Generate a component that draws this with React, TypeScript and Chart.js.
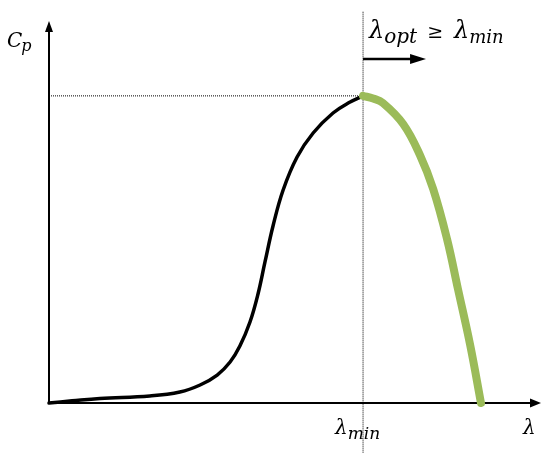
import React, { useEffect, useRef } from "react";
import { Chart, registerables } from "chart.js";

Chart.register(...registerables);

// ---- data (schematic Cp–λ curve) ----
const LAMBDA_MIN = 9.0;
const CP_MAX = 0.402;
const X_MAX = 14.1;
const Y_MAX = 0.5;

const riseLambda = [0, 0.66, 1.46, 2.89, 3.75, 4.33, 4.82, 5.19, 5.47, 5.76, 5.99, 6.19, 6.42, 6.71, 7.11, 7.57, 8.14, 8.63, 9.0];
const riseCp = [0, 0.0028, 0.0059, 0.0092, 0.0144, 0.0236, 0.0366, 0.0537, 0.0746, 0.106, 0.1427, 0.1846, 0.2317, 0.2788, 0.322, 0.3534, 0.3796, 0.394, 0.402];

const fallLambda = [9.0, 9.29, 9.57, 10.15, 10.63, 11.01, 11.41, 11.72, 12.07, 12.38];
const fallCp = [0.402, 0.3985, 0.3927, 0.3652, 0.3246, 0.2801, 0.214, 0.1492, 0.0759, 0];

const GUIDE_TOP = 0.512;
const GUIDE_BOTTOM = -0.065;

const LABEL_CP = ["C", "p"];
const LABEL_LAMBDA = "λ";
const LABEL_OPT = "opt";
const LABEL_MIN = "min";
const LABEL_GEQ = "≥";

const FONT = '"DejaVu Serif", "Liberation Serif", serif';

function drawParts(
  ctx: CanvasRenderingContext2D,
  parts: { t: string; size: number; dy: number; italic: boolean; gapBefore?: number }[],
  x: number,
  y: number
) {
  let cx = x;
  ctx.textBaseline = "alphabetic";
  ctx.textAlign = "left";
  for (const p of parts) {
    cx += p.gapBefore || 0;
    ctx.font = `${p.italic ? "italic " : ""}${p.size}px ${FONT}`;
    ctx.fillText(p.t, cx, y + p.dy);
    cx += ctx.measureText(p.t).width;
  }
}

const decorPlugin = {
  id: "decor",
  beforeDatasetsDraw(chart: any) {
    const { ctx, chartArea } = chart;
    const { left, right, top, bottom } = chartArea;
    ctx.save();
    ctx.strokeStyle = "#000";
    ctx.fillStyle = "#000";
    ctx.lineWidth = 2;
    // x axis
    ctx.beginPath();
    ctx.moveTo(left, bottom);
    ctx.lineTo(right - 8, bottom);
    ctx.stroke();
    ctx.beginPath();
    ctx.moveTo(right, bottom);
    ctx.lineTo(right - 11, bottom - 4.5);
    ctx.lineTo(right - 11, bottom + 4.5);
    ctx.closePath();
    ctx.fill();
    // y axis
    ctx.beginPath();
    ctx.moveTo(left, bottom);
    ctx.lineTo(left, top + 8);
    ctx.stroke();
    ctx.beginPath();
    ctx.moveTo(left, top);
    ctx.lineTo(left - 4, top + 11);
    ctx.lineTo(left + 4, top + 11);
    ctx.closePath();
    ctx.fill();
    ctx.restore();
  },
  afterDraw(chart: any) {
    const { ctx, chartArea, scales } = chart;
    const xm = scales.x.getPixelForValue(LAMBDA_MIN);
    const { top, bottom, right } = chartArea;
    ctx.save();
    ctx.fillStyle = "#000";
    ctx.strokeStyle = "#000";

    // Cp label
    drawParts(
      ctx,
      [
        { t: LABEL_CP[0], size: 20, dy: 0, italic: true },
        { t: LABEL_CP[1], size: 16, dy: 4, italic: true, gapBefore: -1 },
      ],
      7,
      top + 26
    );

    // λopt ≥ λmin
    drawParts(
      ctx,
      [
        { t: LABEL_LAMBDA, size: 24, dy: 0, italic: true },
        { t: LABEL_OPT, size: 20, dy: 5, italic: true, gapBefore: 0 },
        { t: LABEL_GEQ, size: 19, dy: 0, italic: false, gapBefore: 10 },
        { t: LABEL_LAMBDA, size: 24, dy: 0, italic: true, gapBefore: 11 },
        { t: LABEL_MIN, size: 18, dy: 5, italic: true, gapBefore: 0 },
      ],
      xm + 6,
      top + 17
    );

    // arrow under the label
    const ay = top + 38;
    ctx.lineWidth = 2.5;
    ctx.beginPath();
    ctx.moveTo(xm, ay);
    ctx.lineTo(xm + 50, ay);
    ctx.stroke();
    ctx.beginPath();
    ctx.moveTo(xm + 63, ay);
    ctx.lineTo(xm + 47, ay - 5);
    ctx.lineTo(xm + 47, ay + 5);
    ctx.closePath();
    ctx.fill();

    // λmin under axis
    drawParts(
      ctx,
      [
        { t: LABEL_LAMBDA, size: 20, dy: 0, italic: true },
        { t: LABEL_MIN, size: 17, dy: 5, italic: true, gapBefore: 0 },
      ],
      xm - 28,
      bottom + 31
    );

    // λ at right
    drawParts(ctx, [{ t: LABEL_LAMBDA, size: 20, dy: 0, italic: true }], right - 18, bottom + 31);

    ctx.restore();
  },
};

export default function App() {
  const canvasRef = useRef<HTMLCanvasElement | null>(null);

  useEffect(() => {
    document.body.style.margin = "0";
    const canvas = canvasRef.current;
    if (!canvas) return;

    const rise = riseLambda.map((x, i) => ({ x, y: riseCp[i] }));
    const fall = fallLambda.map((x, i) => ({ x, y: fallCp[i] }));

    const chart = new Chart(canvas, {
      type: "scatter",
      data: {
        datasets: [
          {
            data: fall,
            showLine: true,
            borderColor: "#9BBB59",
            borderWidth: 8,
            borderCapStyle: "round",
            borderJoinStyle: "round",
            tension: 0.4,
            pointRadius: 0,
            clip: false,
            order: 0,
          },
          {
            data: rise,
            showLine: true,
            borderColor: "#000",
            borderWidth: 3.5,
            borderCapStyle: "round",
            borderJoinStyle: "round",
            tension: 0.4,
            pointRadius: 0,
            clip: false,
            order: 1,
          },
          {
            data: [
              { x: 0, y: CP_MAX },
              { x: LAMBDA_MIN, y: CP_MAX },
            ],
            showLine: true,
            borderColor: "#000",
            borderWidth: 1,
            borderDash: [1, 1],
            pointRadius: 0,
            clip: false,
            order: 2,
          },
          {
            data: [
              { x: LAMBDA_MIN, y: GUIDE_BOTTOM },
              { x: LAMBDA_MIN, y: GUIDE_TOP },
            ],
            showLine: true,
            borderColor: "#000",
            borderWidth: 1,
            borderDash: [1, 1],
            pointRadius: 0,
            clip: false,
            order: 2,
          },
        ] as any,
      },
      options: {
        animation: false,
        responsive: false,
        layout: { padding: { left: 49, top: 21, right: 9, bottom: 62 } },
        plugins: { legend: { display: false }, tooltip: { enabled: false } },
        scales: {
          x: { type: "linear", min: 0, max: X_MAX, display: false },
          y: { type: "linear", min: 0, max: Y_MAX, display: false },
        },
        events: [],
      } as any,
      plugins: [decorPlugin],
    });

    return () => chart.destroy();
  }, []);

  return (
    <div style={{ position: "absolute", left: 0, top: 0, width: 550, height: 465, background: "#fff" }}>
      <canvas ref={canvasRef} width={550} height={465} />
    </div>
  );
}
